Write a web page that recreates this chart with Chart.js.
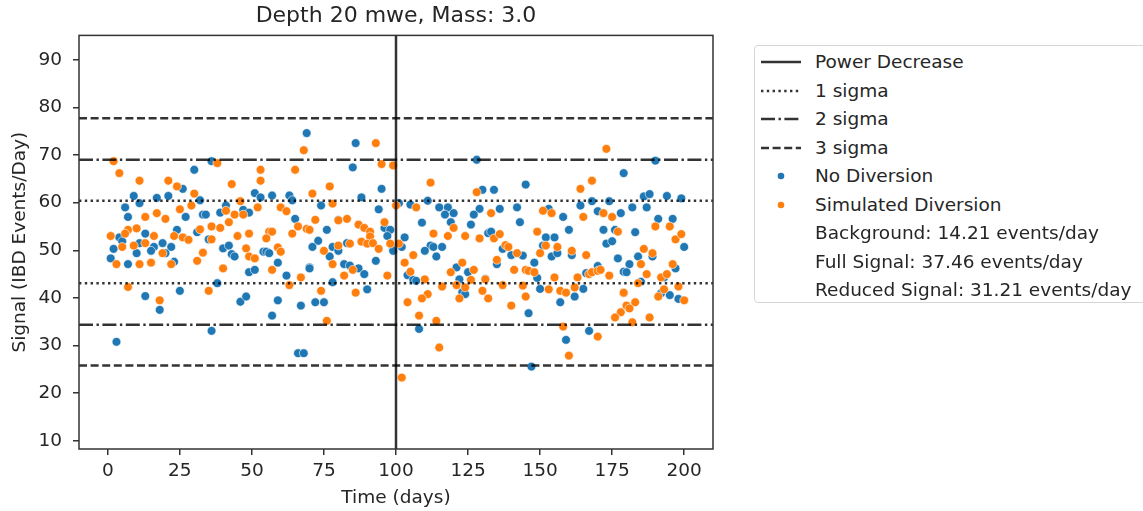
<!DOCTYPE html>
<html>
<head>
<meta charset="utf-8">
<script src="https://cdn.jsdelivr.net/npm/chart.js@4.4.1/dist/chart.umd.min.js"></script>
<style>
  html, body { margin: 0; padding: 0; background: #fff; }
  #wrap { position: relative; width: 1143px; height: 511px; overflow: hidden; font-family: "DejaVu Sans", sans-serif; color: #262626; }
  #legend { position: absolute; left: 754px; top: 45px; width: 420px; height: 258px; border: 1px solid #d6d6d6; border-radius: 4px; background: #fff; box-sizing: border-box; }
  .row { position: absolute; left: 0; height: 28px; line-height: 28px; font-size: 18.5px; white-space: nowrap; }
  .row svg { position: absolute; left: 6px; top: 0; }
  .row span { position: absolute; left: 60px; }
</style>
</head>
<body>
<div id="wrap">
  <canvas id="myChart" width="1143" height="511"></canvas>
  <div id="legend"></div>
</div>
<script>
var ctx = document.getElementById("myChart").getContext("2d");

// No Diversion (blue)
const blueDays = [
  30, 26, 9, 11, 17, 21, 32, 6, 27, 7, 24, 31, 13, 4, 5, 11, 16, 19, 15, 22, 2, 10, 20, 1, 7, 23, 13, 25, 18, 3, 33,
  69, 36, 51, 53, 57, 63, 64, 41, 34, 39, 47, 49, 65, 35, 40, 42, 43, 44, 54, 55, 56, 59, 49, 51, 62, 70, 38, 46, 48, 59, 57, 67, 36, 66, 68,
  86, 85, 95, 88, 74, 94, 101, 105, 80, 76, 96, 98, 97, 73, 71, 78, 80, 83, 77, 99, 99, 102, 103, 70, 82, 84, 87, 89, 93, 104, 78, 90, 72, 75,
  128, 130, 134, 111, 115, 118, 117, 120, 129, 127, 136, 142, 109, 119, 126, 143, 132, 133, 112, 113, 116, 110, 114, 137, 140, 135, 121, 125, 122, 106, 107, 131, 123, 124, 108,
  179, 145, 168, 174, 153, 164, 170, 178, 158, 160, 172, 176, 152, 155, 173, 175, 151, 144, 154, 156, 161, 148, 170, 166, 149, 150, 165, 162, 179, 157, 146, 159, 167, 147,
  190, 186, 188, 194, 199, 182, 187, 191, 196, 183, 200, 177, 184, 189, 181, 180, 197, 185, 193, 192, 195, 198
];
const blueValues = [
  66.9, 62.9, 61.4, 59.9, 61.0, 61.4, 60.5, 59.0, 57.0, 57.0, 54.3, 53.8, 53.5, 52.7, 51.9, 51.5, 50.7, 51.5, 49.9, 50.7, 50.3, 49.4, 49.4, 48.3, 47.1, 47.6, 40.4, 41.5, 37.5, 30.8, 57.5,
  74.6, 68.7, 62.0, 61.1, 61.5, 61.5, 60.5, 59.4, 57.5, 57.9, 58.5, 57.9, 56.6, 52.3, 50.4, 51.0, 49.2, 48.7, 49.7, 49.7, 49.4, 47.4, 45.4, 45.9, 44.7, 46.4, 43.1, 39.2, 40.3, 39.5, 36.3, 38.4, 33.1, 28.4, 28.4,
  72.5, 67.4, 62.9, 61.1, 59.4, 58.6, 59.9, 59.6, 56.4, 54.3, 54.7, 54.3, 53.0, 52.0, 50.7, 50.7, 49.9, 51.5, 48.7, 50.4, 49.9, 50.7, 52.7, 46.2, 47.1, 46.8, 46.2, 45.0, 47.8, 44.8, 43.3, 41.8, 39.1, 39.1,
  69.0, 62.7, 62.7, 60.4, 59.0, 59.0, 57.5, 57.8, 58.7, 57.5, 58.7, 59.0, 55.8, 55.9, 55.4, 55.9, 53.6, 53.9, 51.0, 50.7, 50.7, 49.9, 48.7, 50.3, 49.0, 47.1, 46.4, 45.4, 43.9, 43.8, 43.6, 44.0, 41.2, 40.8, 33.5,
  66.2, 63.8, 60.3, 60.3, 58.7, 59.4, 58.2, 57.8, 57.0, 54.3, 54.3, 54.3, 52.7, 52.7, 51.4, 51.9, 51.0, 48.9, 48.7, 49.4, 49.0, 47.4, 46.7, 45.2, 44.2, 41.9, 41.9, 40.3, 45.5, 39.1, 36.8, 31.2, 33.1, 25.6,
  68.8, 61.3, 61.8, 61.4, 60.9, 59.0, 59.0, 56.6, 56.6, 53.8, 50.7, 48.3, 48.7, 48.7, 47.1, 45.4, 46.2, 43.4, 44.3, 41.0, 40.6, 39.8
];

// Simulated Diversion (orange)
const orangeDays = [
  2, 4, 11, 21, 24, 30, 25, 29, 17, 13, 20, 7, 10, 6, 1, 5, 9, 13, 16, 23, 26, 28, 32, 19, 22, 3, 11, 15, 31, 33, 7, 18,
  38, 53, 53, 43, 65, 46, 52, 60, 62, 41, 44, 47, 42, 36, 39, 45, 49, 56, 57, 55, 36, 66, 69, 64, 48, 59, 60, 49, 51, 40, 57, 67, 63, 35, 68,
  93, 95, 99, 77, 71, 78, 100, 72, 80, 83, 96, 87, 89, 91, 91, 70, 88, 90, 92, 84, 80, 98, 101, 94, 75, 78, 85, 82, 97, 103, 105, 74, 86, 104, 76, 102,
  112, 128, 107, 133, 113, 118, 120, 124, 129, 134, 136, 138, 139, 106, 135, 141, 123, 119, 127, 110, 126, 131, 116, 121, 124, 137, 130, 111, 109, 122, 132, 140, 108, 114, 115,
  173, 168, 164, 151, 154, 165, 172, 175, 149, 177, 152, 156, 161, 142, 150, 166, 145, 146, 148, 167, 168, 170, 171, 174, 155, 163, 144, 153, 157, 159, 162, 145, 179, 178, 176, 158, 170, 160,
  190, 195, 197, 199, 186, 189, 185, 196, 187, 192, 194, 184, 198, 193, 179, 191, 183, 180, 181, 200, 188, 182
];
const orangeValues = [
  68.7, 66.2, 64.6, 64.6, 63.4, 61.9, 58.6, 59.4, 57.8, 57.0, 56.6, 54.3, 54.6, 53.5, 53.0, 50.7, 51.0, 51.5, 53.0, 53.0, 52.7, 52.2, 54.4, 49.4, 47.1, 47.1, 47.1, 47.4, 47.8, 49.5, 42.3, 39.5,
  68.3, 66.9, 64.6, 63.9, 66.9, 60.3, 59.0, 59.0, 58.2, 58.3, 57.5, 57.5, 55.9, 55.0, 54.7, 53.0, 53.5, 53.9, 53.9, 52.5, 52.3, 55.0, 54.5, 53.5, 50.4, 50.6, 49.7, 48.7, 48.3, 46.2, 45.9, 44.3, 42.7, 41.5, 71.0,
  72.5, 68.1, 67.8, 63.4, 61.9, 59.8, 59.4, 56.4, 56.3, 56.6, 55.9, 55.4, 54.7, 53.9, 52.9, 54.3, 51.8, 51.4, 51.5, 51.4, 51.0, 51.4, 51.4, 50.3, 49.9, 47.1, 45.9, 44.7, 44.7, 47.4, 45.5, 41.5, 41.1, 39.1, 35.2, 23.3,
  64.2, 62.2, 59.0, 57.8, 53.5, 53.0, 54.7, 53.0, 52.5, 52.5, 53.4, 51.1, 50.7, 49.0, 48.0, 45.9, 47.4, 45.4, 45.9, 43.9, 43.8, 43.9, 42.4, 42.7, 42.2, 42.7, 41.5, 40.8, 39.9, 39.9, 39.9, 38.4, 36.3, 35.2, 29.6,
  71.3, 64.6, 62.9, 58.3, 57.8, 57.0, 57.8, 57.0, 53.9, 53.9, 51.0, 50.7, 49.9, 49.4, 49.4, 49.0, 45.9, 45.7, 45.4, 45.0, 45.4, 45.7, 45.9, 44.7, 44.3, 44.3, 42.6, 41.8, 41.5, 41.1, 42.2, 40.3, 41.0, 37.0, 35.9, 34.0, 31.9, 27.9,
  55.0, 55.0, 52.3, 53.4, 50.3, 49.4, 47.1, 47.1, 45.0, 44.3, 45.0, 43.1, 42.4, 41.8, 41.1, 40.3, 39.1, 38.4, 37.8, 39.5, 35.9, 34.9
];

// reference lines
const powerDecreaseDay = 100;
const oneSigma = [60.4, 43.1];
const twoSigma = [69.0, 34.4];
const threeSigma = [77.7, 25.8];

const xTicks = [0, 25, 50, 75, 100, 125, 150, 175, 200];
const yTicks = [10, 20, 30, 40, 50, 60, 70, 80, 90];

const legendNotes = [
  "Background: 14.21 events/day",
  "Full Signal: 37.46 events/day",
  "Reduced Signal: 31.21 events/day"
];

const FONT = "DejaVu Sans";
const TXT = "#262626";
const LINE = "rgba(0,0,0,0.8)";
const BLUE = "#1f77b4";
const ORANGE = "#ff7f0e";
const LW = 2.5;

const dash = { solid: [], dotted: [2.4, 3.4], dashdot: [14, 3.5, 2.4, 3.5], dashed: [8, 3.6] };
const hLines = [
  { values: oneSigma, dash: dash.dotted },
  { values: twoSigma, dash: dash.dashdot },
  { values: threeSigma, dash: dash.dashed }
];

const toPoints = (xs, ys) => xs.map((d, i) => ({ x: d, y: ys[i] }));

const refLines = {
  id: "refLines",
  afterDatasetsDraw(chart) {
    const { ctx, chartArea: a, scales: { x, y } } = chart;
    ctx.save();
    ctx.beginPath();
    ctx.rect(a.left, a.top, a.right - a.left, a.bottom - a.top);
    ctx.clip();
    ctx.strokeStyle = LINE;
    ctx.lineWidth = LW;
    ctx.lineCap = "butt";
    hLines.forEach(h => {
      ctx.setLineDash(h.dash);
      h.values.forEach(v => {
        const py = y.getPixelForValue(v);
        ctx.beginPath();
        ctx.moveTo(a.left, py);
        ctx.lineTo(a.right, py);
        ctx.stroke();
      });
    });
    ctx.setLineDash([]);
    const px = x.getPixelForValue(powerDecreaseDay);
    ctx.beginPath();
    ctx.moveTo(px, a.top);
    ctx.lineTo(px, a.bottom);
    ctx.stroke();
    ctx.restore();
  },
  afterDraw(chart) {
    const { ctx, chartArea: a } = chart;
    ctx.save();
    ctx.strokeStyle = "#333";
    ctx.lineWidth = 1.5;
    ctx.strokeRect(a.left, a.top, a.right - a.left, a.bottom - a.top);
    ctx.restore();
  }
};

const tickGrid = { drawOnChartArea: false, drawTicks: true, tickLength: 6, color: "#333", lineWidth: 1.5 };

var chart = new Chart(ctx, {
  type: "scatter",
  data: {
    datasets: [
      {
        label: "No Diversion",
        data: toPoints(blueDays, blueValues),
        backgroundColor: BLUE,
        borderColor: "#ffffff",
        borderWidth: 0.6,
        pointRadius: 4.4,
        order: 2
      },
      {
        label: "Simulated Diversion",
        data: toPoints(orangeDays, orangeValues),
        backgroundColor: ORANGE,
        borderColor: "#ffffff",
        borderWidth: 0.6,
        pointRadius: 4.4,
        order: 1
      }
    ]
  },
  options: {
    responsive: false,
    animation: false,
    layout: { padding: { left: 0, right: 430, top: 0, bottom: 0 } },
    plugins: {
      legend: { display: false },
      tooltip: { enabled: false },
      title: {
        display: true,
        text: "Depth 20 mwe, Mass: 3.0",
        fullSize: false,
        color: TXT,
        font: { family: FONT, size: 22, weight: "normal" },
        padding: { top: 3, bottom: 6 }
      }
    },
    scales: {
      x: {
        type: "linear",
        min: -10,
        max: 210,
        afterBuildTicks: s => { s.ticks = xTicks.map(v => ({ value: v })); },
        afterFit: s => { s.height = 62; },
        grid: tickGrid,
        border: { display: false },
        ticks: { color: TXT, font: { family: FONT, size: 18.5 }, padding: 5, maxRotation: 0, autoSkip: false },
        title: { display: true, text: "Time (days)", color: TXT, font: { family: FONT, size: 18.5 }, padding: { top: 2, bottom: 2 } }
      },
      y: {
        type: "linear",
        min: 8.3,
        max: 95.1,
        afterBuildTicks: s => { s.ticks = yTicks.map(v => ({ value: v })); },
        afterFit: s => { s.width = 79; },
        grid: tickGrid,
        border: { display: false },
        ticks: { color: TXT, font: { family: FONT, size: 18.5 }, padding: 11, autoSkip: false },
        title: { display: true, text: "Signal (IBD Events/Day)", color: TXT, font: { family: FONT, size: 18.5 }, padding: { top: 9, bottom: 3 } }
      }
    }
  },
  plugins: [refLines]
});

// legend, matplotlib style
const legendRows = [
  { kind: "line", dash: dash.solid, text: "Power Decrease" },
  { kind: "line", dash: dash.dotted, text: "1 sigma" },
  { kind: "line", dash: dash.dashdot, text: "2 sigma" },
  { kind: "line", dash: dash.dashed, text: "3 sigma" },
  { kind: "dot", color: BLUE, text: "No Diversion" },
  { kind: "dot", color: ORANGE, text: "Simulated Diversion" }
].concat(legendNotes.map(t => ({ kind: "none", text: t })));

const legend = document.getElementById("legend");
legendRows.forEach((r, i) => {
  const row = document.createElement("div");
  row.className = "row";
  row.style.top = (2 + i * 28.5) + "px";
  let sw = "";
  if (r.kind === "line") {
    sw = '<svg width="40" height="28"><line x1="0" y1="14" x2="40" y2="14" stroke="' + LINE +
      '" stroke-width="' + LW + '" stroke-dasharray="' + (r.dash.length ? r.dash.join(",") : "none") + '"/></svg>';
  } else if (r.kind === "dot") {
    sw = '<svg width="40" height="28"><circle cx="20" cy="14" r="3.3" fill="' + r.color + '"/></svg>';
  }
  row.innerHTML = sw + "<span>" + r.text + "</span>";
  legend.appendChild(row);
});
</script>
</body>
</html>
